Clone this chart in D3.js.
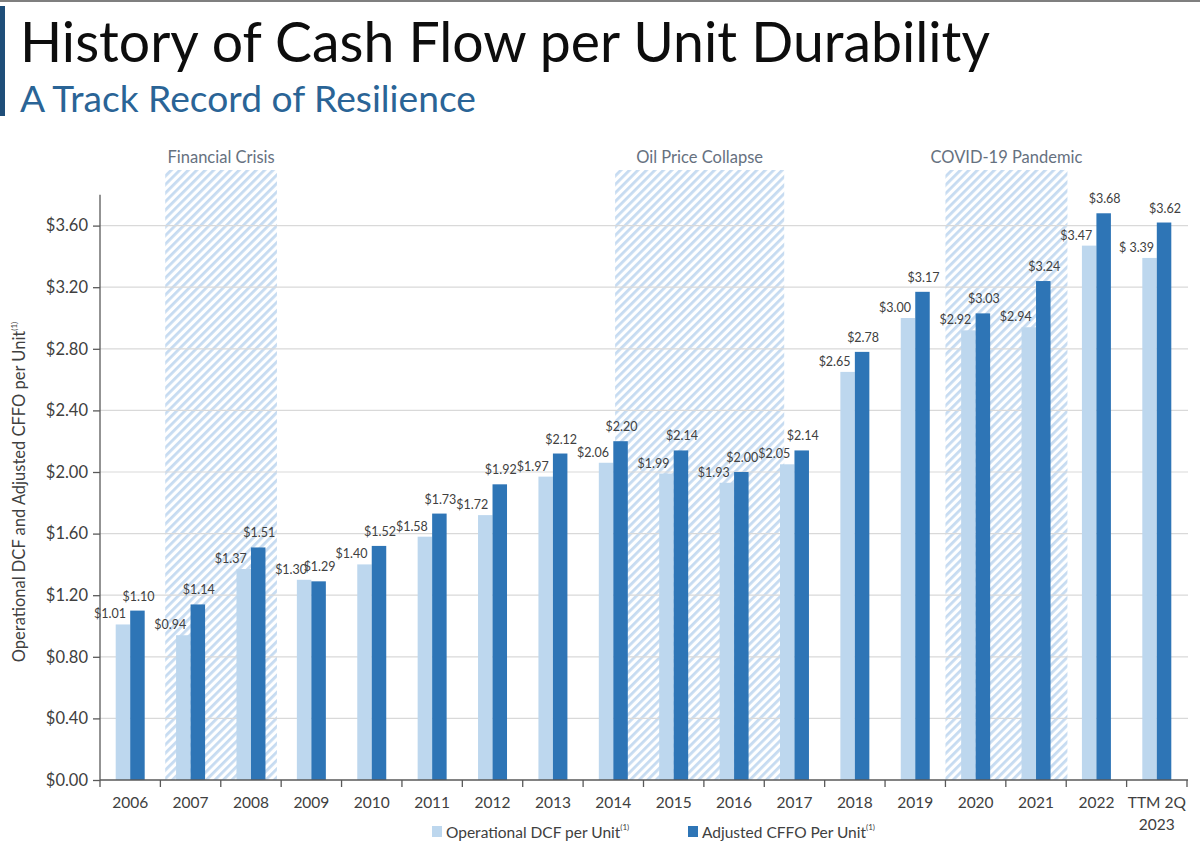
<!DOCTYPE html>
<html>
<head>
<meta charset="utf-8">
<script src="https://cdn.jsdelivr.net/npm/d3@7"></script>
<style>
  html, body { margin: 0; padding: 0; background: #ffffff; }
  svg { display: block; }
</style>
</head>
<body>
<div id="chart"></div>
<script>
// ---------------- DATA ----------------
const categories = ["2006","2007","2008","2009","2010","2011","2012","2013","2014","2015","2016","2017","2018","2019","2020","2021","2022","TTM 2Q 2023"];
const operationalDCF = [1.01,0.94,1.37,1.30,1.40,1.58,1.72,1.97,2.06,1.99,1.93,2.05,2.65,3.00,2.92,2.94,3.47,3.39];
const adjustedCFFO   = [1.10,1.14,1.51,1.29,1.52,1.73,1.92,2.12,2.20,2.14,2.00,2.14,2.78,3.17,3.03,3.24,3.68,3.62];
const yTicks = [0,0.4,0.8,1.2,1.6,2.0,2.4,2.8,3.2,3.6];
const eventNames = ["Financial Crisis","Oil Price Collapse","COVID-19 Pandemic"];
const eventStart = ["2007","2014","2020"];
const eventEnd   = ["2008","2017","2021"];
const seriesNames = ["Operational DCF per Unit","Adjusted CFFO Per Unit"];

// ---------------- LAYOUT / STYLE ----------------
const W = 1200, H = 855;
const margin = { left: 100, right: 1187, top: 194.8, bottom: 780 };
const colors = { light: "#bdd7ee", dark: "#2e75b6", hatch: "#c6dbf1", text: "#404040", axis: "#595959", grid: "#d9d9d9" };
const font = "Lato, 'Open Sans', sans-serif";
// fractional insets of each shaded period within its first / last band
const eventInsets = [[0.08, 0.93], [0.53, 0.33], [0.0, 1.02]];

const svg = d3.select("#chart").append("svg").attr("width", W).attr("height", H);

const defs = svg.append("defs");
const pat = defs.append("pattern").attr("id", "hatch")
  .attr("patternUnits", "userSpaceOnUse").attr("width", 6).attr("height", 6)
  .attr("patternTransform", "rotate(45)");
pat.append("rect").attr("width", 6).attr("height", 6).attr("fill", "#ffffff");
pat.append("rect").attr("width", 2.8).attr("height", 6).attr("fill", colors.hatch);

// header decorations
svg.append("rect").attr("x", 0).attr("y", 0).attr("width", W).attr("height", 2).attr("fill", "#7f7f7f");
svg.append("rect").attr("x", 0).attr("y", 6).attr("width", 5).attr("height", 110).attr("fill", "#1f4e79");

svg.append("text").attr("x", 20).attr("y", 62)
  .attr("font-family", font).attr("font-size", 57).attr("fill", "#0d0d0d")
  .attr("textLength", 970).attr("lengthAdjust", "spacingAndGlyphs")
  .text("History of Cash Flow per Unit Durability");
svg.append("text").attr("x", 20).attr("y", 112)
  .attr("font-family", font).attr("font-size", 37).attr("fill", "#2a6496")
  .attr("textLength", 456).attr("lengthAdjust", "spacingAndGlyphs")
  .text("A Track Record of Resilience");

// scales
const x = d3.scaleBand().domain(categories).range([margin.left, margin.right]).padding(0);
const bw = x.bandwidth();
const barW = bw * 0.24;
const y = d3.scaleLinear().domain([0, 3.8]).range([margin.bottom, margin.top]);

// shaded event periods
const evG = svg.append("g");
eventNames.forEach((name, i) => {
  const x0 = x(eventStart[i]) + eventInsets[i][0] * bw;
  const x1 = x(eventEnd[i]) + eventInsets[i][1] * bw;
  evG.append("rect").attr("x", x0).attr("y", 170).attr("width", x1 - x0).attr("height", y(0) - 170)
    .attr("fill", "url(#hatch)");
  evG.append("text").attr("x", (x0 + x1) / 2).attr("y", 163)
    .attr("text-anchor", "middle").attr("font-family", font).attr("font-size", 16.5)
    .attr("fill", "#66717f").text(name);
});

// gridlines
svg.append("g").selectAll("line").data(yTicks.filter(d => d > 0)).join("line")
  .attr("x1", margin.left).attr("x2", margin.right + 1)
  .attr("y1", d => y(d)).attr("y2", d => y(d))
  .attr("stroke", colors.grid).attr("stroke-width", 1.2);

// bars
const data = categories.map((c, i) => ({ c, op: operationalDCF[i], adj: adjustedCFFO[i] }));
const barsG = svg.append("g");
barsG.selectAll("rect.op").data(data).join("rect").attr("class", "op")
  .attr("x", d => x(d.c) + bw / 2 - barW).attr("width", barW)
  .attr("y", d => y(d.op)).attr("height", d => y(0) - y(d.op))
  .attr("fill", colors.light);
barsG.selectAll("rect.adj").data(data).join("rect").attr("class", "adj")
  .attr("x", d => x(d.c) + bw / 2).attr("width", barW)
  .attr("y", d => y(d.adj)).attr("height", d => y(0) - y(d.adj))
  .attr("fill", colors.dark);

// value labels
const fmt = d3.format(".2f");
const labG = svg.append("g").attr("font-family", font).attr("font-size", 12.5).attr("fill", colors.text).attr("text-anchor", "middle");
labG.selectAll("text.op").data(data).join("text").attr("class", "op")
  .attr("x", d => x(d.c) + bw / 2 - barW / 2 - 13)
  .attr("y", d => y(d.op) - 6)
  .text(d => (d.c.startsWith("TTM") ? "$ " : "$") + fmt(d.op));
labG.selectAll("text.adj").data(data).join("text").attr("class", "adj")
  .attr("x", d => x(d.c) + bw / 2 + barW / 2 + 1)
  .attr("y", d => y(d.adj) - 10)
  .text(d => "$" + fmt(d.adj));

// y axis
const yAxis = d3.axisLeft(y).tickValues(yTicks).tickFormat(d => "$" + fmt(d)).tickSize(7).tickPadding(5);
const yG = svg.append("g").attr("transform", `translate(${margin.left},0)`).call(yAxis);
yG.select(".domain").attr("stroke", colors.axis).attr("stroke-width", 1.3).attr("d", `M0,${margin.top}V${margin.bottom}`);
yG.selectAll(".tick line").attr("stroke", colors.axis).attr("stroke-width", 1.3);
yG.selectAll(".tick text").attr("font-family", font).attr("font-size", 16.5).attr("fill", colors.text);

// x axis
const xAxisLine = svg.append("g");
xAxisLine.append("line").attr("x1", margin.left).attr("x2", margin.right + 1)
  .attr("y1", y(0)).attr("y2", y(0)).attr("stroke", colors.axis).attr("stroke-width", 1.3);
xAxisLine.selectAll("line.tk").data(categories.concat(["__end"])).join("line").attr("class", "tk")
  .attr("x1", (d, i) => margin.left + i * bw).attr("x2", (d, i) => margin.left + i * bw)
  .attr("y1", y(0)).attr("y2", y(0) + 7).attr("stroke", colors.axis).attr("stroke-width", 1.3);
const xl = svg.append("g").attr("font-family", font).attr("font-size", 15.5).attr("fill", colors.text).attr("text-anchor", "middle");
xl.selectAll("text").data(categories).join("text")
  .attr("x", d => x(d) + bw / 2).attr("y", 808)
  .each(function(d) {
    const t = d3.select(this);
    if (d.startsWith("TTM")) {
      t.append("tspan").attr("x", x(d) + bw / 2).attr("dy", 0).text("TTM 2Q");
      t.append("tspan").attr("x", x(d) + bw / 2).attr("dy", 22).text("2023");
    } else t.text(d);
  });

// y axis title
const yt = svg.append("text").attr("transform", "translate(25,492) rotate(-90)")
  .attr("text-anchor", "middle").attr("font-family", font).attr("font-size", 16.5).attr("fill", colors.text);
yt.append("tspan").text("Operational DCF and Adjusted CFFO per Unit");
yt.append("tspan").attr("font-size", 8).attr("dy", -8).text("(1)");

// legend
const lg = svg.append("g").attr("font-family", font).attr("font-size", 15.5).attr("fill", colors.text);
const legendX = [432, 688];
const legendColors = [colors.light, colors.dark];
seriesNames.forEach((n, i) => {
  lg.append("rect").attr("x", legendX[i]).attr("y", 826).attr("width", 10).attr("height", 11).attr("fill", legendColors[i]);
  const t = lg.append("text").attr("x", legendX[i] + 14).attr("y", 838);
  t.append("tspan").text(n);
  t.append("tspan").attr("font-size", 8).attr("dy", -8).text("(1)");
});
</script>
</body>
</html>
